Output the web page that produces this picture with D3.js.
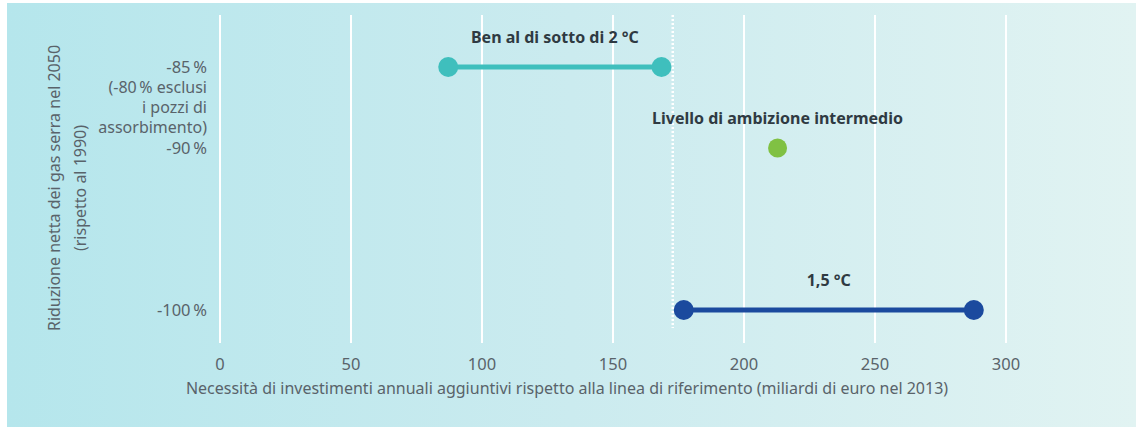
<!DOCTYPE html>
<html>
<head>
<meta charset="utf-8">
<script src="https://cdn.jsdelivr.net/npm/d3@7"></script>
<style>
  html, body { margin: 0; padding: 0; background: #ffffff; }
  svg { display: block; }
  text { font-family: "Noto Sans", "Open Sans", sans-serif; }
</style>
</head>
<body>
<svg id="chart" width="1136" height="429"></svg>
<script>
// ---- data ----
const scenarios = ["Ben al di sotto di 2 °C", "Livello di ambizione intermedio", "1,5 °C"];
const reductions = [-85, -90, -100];          // y value (% net GHG reduction 2050 vs 1990)
const investMin = [87.3, 213, 177.2];          // bn EUR 2013 per year, lower end
const investMax = [168.7, 213, 287.9];         // upper end
const seriesColors = ["#3fbfbd", "#80c143", "#1b4a9e"];
const xTicks = [0, 50, 100, 150, 200, 250, 300];
const yTicks = [-85, -90, -100];
const yTickLabels = ["-85\u202f%", "-90\u202f%", "-100\u202f%"];
const yNoteLines = ["(-80\u202f% esclusi", "i pozzi di", "assorbimento)"];
const dividerValue = 173;
const xTitle = "Necessità di investimenti annuali aggiuntivi rispetto alla linea di riferimento (miliardi di euro nel 2013)";
const yTitleLines = ["Riduzione netta dei gas serra nel 2050", "(rispetto al 1990)"];

// ---- layout ----
const svg = d3.select("#chart");
const W = 1136, H = 429;
const plotTop = 15, plotBottom = 343;

const defs = svg.append("defs");
const grad = defs.append("linearGradient").attr("id", "bg").attr("x1", "0").attr("x2", "1").attr("y1", "0").attr("y2", "0");
grad.append("stop").attr("offset", "0").attr("stop-color", "#b5e6ec");
grad.append("stop").attr("offset", "0.5").attr("stop-color", "#cbebef");
grad.append("stop").attr("offset", "1").attr("stop-color", "#e1f3f2");

svg.append("rect").attr("x", 7).attr("y", 3).attr("width", W - 7).attr("height", 424).attr("fill", "url(#bg)");

const x = d3.scaleLinear().domain([0, 300]).range([219.5, 1005.5]);
const y = d3.scaleLinear().domain([-85, -100]).range([67, 310]);

// x axis + gridlines
const xAxis = svg.append("g")
  .attr("transform", `translate(0,${plotBottom})`)
  .call(d3.axisBottom(x).tickValues(xTicks).tickFormat(d3.format("d"))
        .tickSize(-(plotBottom - plotTop)).tickPadding(15));
xAxis.select(".domain").remove();
xAxis.selectAll(".tick line").attr("stroke", "#ffffff").attr("stroke-width", 2);
xAxis.selectAll(".tick text").attr("fill", "#59636a").attr("font-size", 16.5);

// divider dotted line
svg.append("line")
  .attr("x1", x(dividerValue)).attr("x2", x(dividerValue))
  .attr("y1", plotTop).attr("y2", 328)
  .attr("stroke", "#ffffff").attr("stroke-width", 2.5).attr("stroke-dasharray", "2,2");

// y axis labels
const yAxis = svg.append("g")
  .attr("transform", `translate(207,0)`)
  .call(d3.axisLeft(y).tickValues(yTicks).tickFormat((d, i) => yTickLabels[i]).tickSize(0).tickPadding(0));
yAxis.select(".domain").remove();
yAxis.selectAll(".tick text").attr("fill", "#59636a").attr("font-size", 16.5);

svg.append("g").selectAll("text").data(yNoteLines).join("text")
  .attr("x", 207).attr("y", (d, i) => y(-85) + 21 + i * 20)
  .attr("dy", "0.32em").attr("text-anchor", "end")
  .attr("fill", "#59636a").attr("font-size", 16).text(d => d);

// y title
svg.append("g").selectAll("text").data(yTitleLines).join("text")
  .attr("transform", (d, i) => `translate(${[54, 80][i]},188) rotate(-90)`)
  .attr("dy", "0.35em").attr("text-anchor", "middle")
  .attr("fill", "#59636a").attr("font-size", 16).text(d => d);

// x title
svg.append("text").attr("x", 567).attr("y", 388).attr("dy", "0.35em")
  .attr("text-anchor", "middle").attr("fill", "#59636a").attr("font-size", 16).text(xTitle);

// series
const data = scenarios.map((s, i) => ({ name: s, y: reductions[i], a: investMin[i], b: investMax[i], c: seriesColors[i] }));
const g = svg.append("g");
g.selectAll("line.range").data(data.filter(d => d.a !== d.b)).join("line")
  .attr("x1", d => x(d.a)).attr("x2", d => x(d.b))
  .attr("y1", d => y(d.y)).attr("y2", d => y(d.y))
  .attr("stroke", d => d.c).attr("stroke-width", 5);
const pts = data.flatMap(d => d.a === d.b ? [{ v: d.a, y: d.y, c: d.c, r: 9.5 }] : [{ v: d.a, y: d.y, c: d.c, r: 10 }, { v: d.b, y: d.y, c: d.c, r: 10 }]);
g.selectAll("circle").data(pts).join("circle")
  .attr("cx", d => x(d.v)).attr("cy", d => y(d.y)).attr("r", d => d.r).attr("fill", d => d.c);
g.selectAll("text").data(data).join("text")
  .attr("x", d => x((d.a + d.b) / 2)).attr("y", d => y(d.y) - 30)
  .attr("dy", "0.35em").attr("text-anchor", "middle")
  .attr("font-weight", "bold").attr("font-size", 16).attr("fill", "#2f3a42").text(d => d.name);
</script>
</body>
</html>
